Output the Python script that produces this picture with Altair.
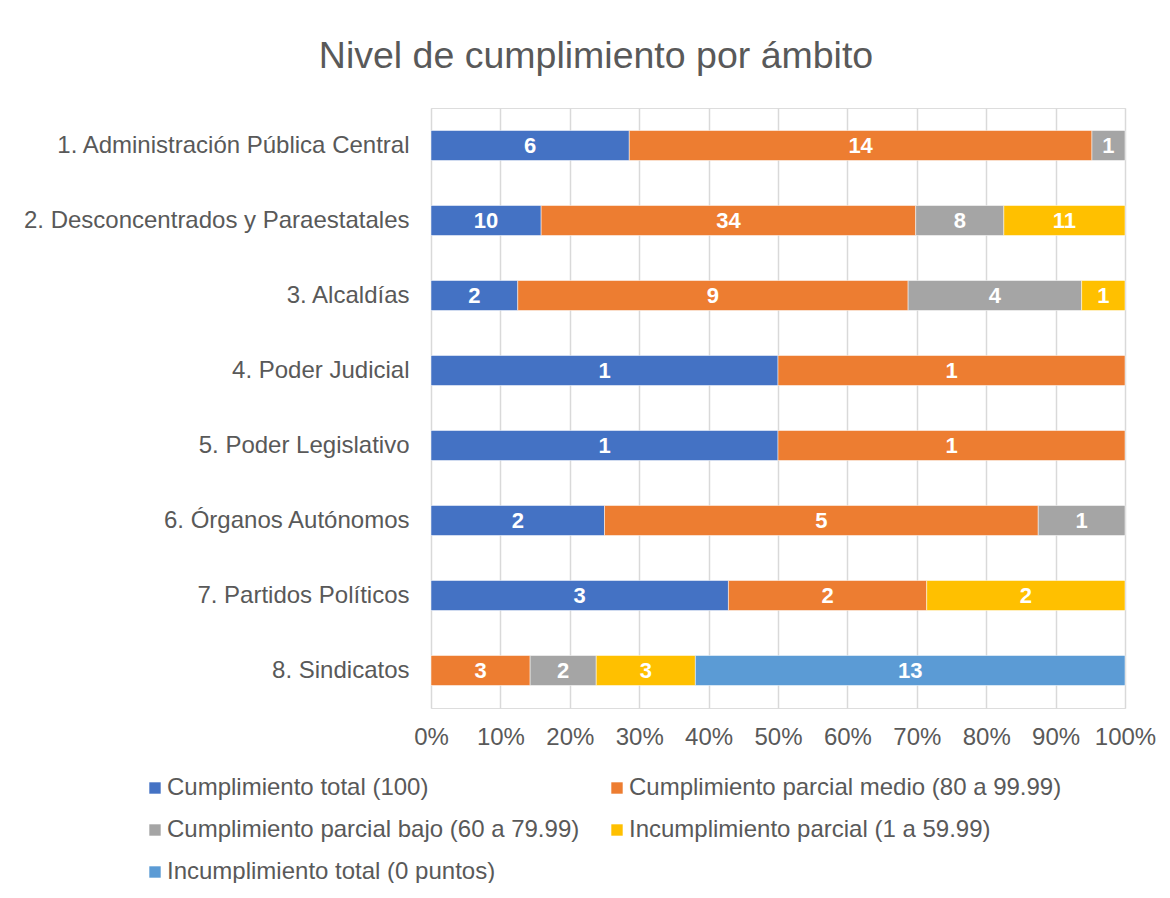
import altair as alt
import pandas as pd

categories = [
    "1. Administración Pública Central",
    "2. Desconcentrados y Paraestatales",
    "3. Alcaldías",
    "4. Poder Judicial",
    "5. Poder Legislativo",
    "6. Órganos Autónomos",
    "7. Partidos Políticos",
    "8. Sindicatos",
]
series = [
    "Cumplimiento total (100)",
    "Cumplimiento parcial medio (80 a 99.99)",
    "Cumplimiento parcial bajo (60 a 79.99)",
    "Incumplimiento parcial (1 a 59.99)",
    "Incumplimiento total (0 puntos)",
]
colors = ["#4472C4", "#ED7D31", "#A5A5A5", "#FFC000", "#5B9BD5"]

cumplimiento_total = [6, 10, 2, 1, 1, 2, 3, 0]
parcial_medio = [14, 34, 9, 1, 1, 5, 2, 3]
parcial_bajo = [1, 8, 4, 0, 0, 1, 0, 2]
incumplimiento_parcial = [0, 11, 1, 0, 0, 0, 2, 3]
incumplimiento_total = [0, 0, 0, 0, 0, 0, 0, 13]

values = [cumplimiento_total, parcial_medio, parcial_bajo,
          incumplimiento_parcial, incumplimiento_total]

rows = []
for si, (s, vals) in enumerate(zip(series, values)):
    for c, v in zip(categories, vals):
        if v > 0:
            rows.append({"cat": c, "serie": s, "order": si, "value": v})
df = pd.DataFrame(rows)

FONT = "Liberation Sans"
TXT = "#595959"

base = alt.Chart(df).transform_stack(
    stack="value", groupby=["cat"], sort=[alt.SortField("order", "ascending")],
    as_=["x0", "x1"], offset="normalize"
).transform_calculate(mid="(datum.x0 + datum.x1) / 2")

yenc = alt.Y("cat:N", sort=categories, title=None,
             scale=alt.Scale(paddingInner=0.6, paddingOuter=0.3),
             axis=alt.Axis(labelFontSize=24, labelColor=TXT, labelFont=FONT,
                           labelPadding=22, labelLimit=500, domain=False,
                           ticks=False, grid=False))

bars = base.mark_bar(stroke="white", strokeWidth=0.5).encode(
    x=alt.X("x0:Q", title=None,
            scale=alt.Scale(domain=[0, 1], nice=False),
            axis=alt.Axis(format="%", values=[i / 10 for i in range(11)],
                          labelFontSize=24, labelColor=TXT, labelFont=FONT,
                          labelPadding=17, labelOverlap=False, labelFlush=False,
                          domain=False, ticks=False,
                          gridColor="#D9D9D9", gridWidth=1.5)),
    x2="x1:Q",
    y=yenc,
    color=alt.Color("serie:N", sort=series,
                    scale=alt.Scale(domain=series, range=colors),
                    legend=alt.Legend(title=None, orient="none", legendX=-288,
                                      legendY=668, columns=2, direction="horizontal",
                                      symbolType="square", symbolSize=130,
                                      symbolStrokeWidth=0, labelFontSize=24,
                                      labelFont=FONT, labelColor=TXT,
                                      labelOffset=0, labelLimit=600,
                                      columnPadding=25, rowPadding=18)),
    order=alt.Order("order:Q"),
)

labels = base.mark_text(color="white", fontWeight="bold", fontSize=22,
                        font=FONT).encode(
    x=alt.X("mid:Q"),
    y=alt.Y("cat:N", sort=categories),
    text=alt.Text("value:Q"),
)

chart = alt.layer(bars, labels).properties(
    width=694, height=600,
    title=alt.TitleParams("Nivel de cumplimiento por ámbito", fontSize=37.5,
                          font=FONT, color=TXT, fontWeight="normal",
                          anchor="middle", dx=-182, offset=33),
    autosize=alt.AutoSizeParams(type="none"),
    padding={"left": 423, "top": 100, "right": 37, "bottom": 175},
).configure_view(stroke=None).configure(background="white")

chart.save("out.html", embed_options={"renderer": "svg", "actions": False})
